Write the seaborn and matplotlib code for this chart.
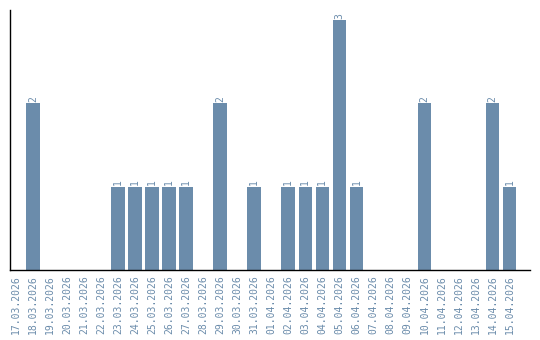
import matplotlib
matplotlib.use("Agg")
import matplotlib.pyplot as plt
import seaborn as sns
import pandas as pd

dates = ["17.03.2026", "18.03.2026", "19.03.2026", "20.03.2026", "21.03.2026",
         "22.03.2026", "23.03.2026", "24.03.2026", "25.03.2026", "26.03.2026",
         "27.03.2026", "28.03.2026", "29.03.2026", "30.03.2026", "31.03.2026",
         "01.04.2026", "02.04.2026", "03.04.2026", "04.04.2026", "05.04.2026",
         "06.04.2026", "07.04.2026", "08.04.2026", "09.04.2026", "10.04.2026",
         "11.04.2026", "12.04.2026", "13.04.2026", "14.04.2026", "15.04.2026"]
counts = [0, 2, 0, 0, 0, 0, 1, 1, 1, 1, 1, 0, 2, 0, 1,
          0, 1, 1, 1, 3, 1, 0, 0, 0, 2, 0, 0, 0, 2, 1]

sns.set_style("white")
plt.rcParams['font.family'] = ['DejaVu Sans Mono', 'DejaVu Sans']

color = "#6b8cab"
df = pd.DataFrame({"date": dates, "count": counts})

fig = plt.figure(figsize=(5.4, 3.4), dpi=100)
ax = fig.add_axes([10/540, 1 - 270/340, 520/540, 260/340])
sns.barplot(data=df, x="date", y="count", color=color, saturation=1, width=0.8,
            linewidth=0, edgecolor="none", ax=ax)

labels = [str(c) if c > 0 else "" for c in counts]
ax.bar_label(ax.containers[0], labels=labels, rotation=90, fontsize=7, color=color, padding=1)

ax.set_xlim(-0.35, 30.2)
ax.set_ylim(0, 3.12)
ax.set_xlabel("")
ax.set_ylabel("")
ax.set_yticks([])
ax.tick_params(axis="x", rotation=90, labelsize=7, labelcolor=color, length=0, pad=4)
for s in ["top", "right"]:
    ax.spines[s].set_visible(False)
for s in ["left", "bottom"]:
    ax.spines[s].set_color("black")
    ax.spines[s].set_linewidth(1)

fig.savefig("out.png", dpi=100)
